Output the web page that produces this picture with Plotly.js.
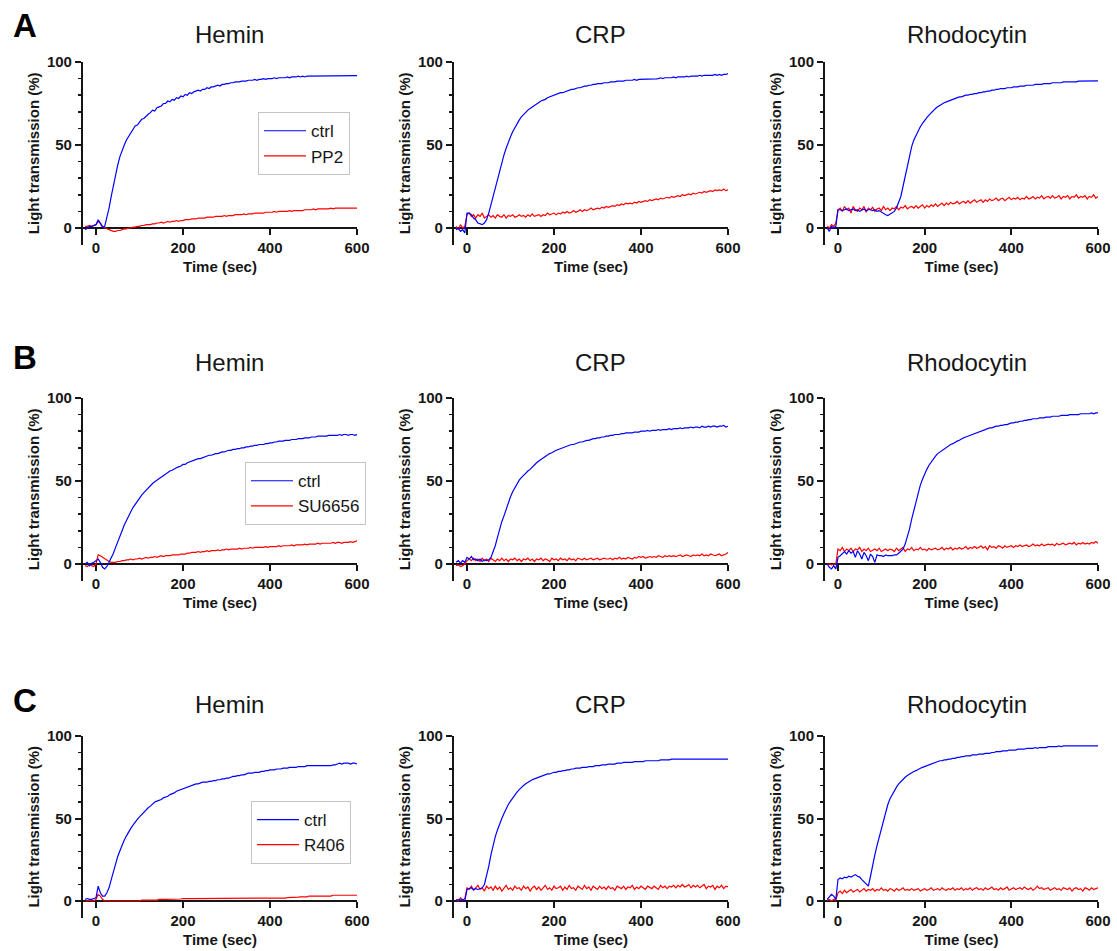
<!DOCTYPE html>
<html>
<head>
<meta charset="utf-8">
<script src="https://cdn.plot.ly/plotly-3.0.1.min.js"></script>
<style>html,body{margin:0;padding:0;background:#fff;}</style>
</head>
<body>
<div id="chart" style="width:1117px;height:951px;"></div>
<script>
// ---------------- DATA ----------------
const panelLetters = ['A', 'B', 'C'];
const agonists = ['Hemin', 'CRP', 'Rhodocytin'];
const inhibitors = ['PP2', 'SU6656', 'R406'];
const xTicks = [0, 200, 400, 600];
const yTicks = [0, 50, 100];

// time (sec)
const time = [-25,-20,-15,-10,-5,0,5,10,15,20,25,30,35,40,45,50,55,60,65,70,75,80,85,90,95,100,105,110,115,120,125,130,135,140,145,150,155,160,165,170,175,180,185,190,195,200,205,210,215,220,225,230,235,240,245,250,255,260,265,270,275,280,285,290,295,300,305,310,315,320,325,330,335,340,345,350,355,360,365,370,375,380,385,390,395,400,405,410,415,420,425,430,435,440,445,450,455,460,465,470,475,480,485,490,495,500,505,510,515,520,525,530,535,540,545,550,555,560,565,570,575,580,585,590,595,600];

// Row A (PP2)
const heminA_ctrl = [-1,0,1,1,1.5,2,5,3,0.5,1, 6,12,19,26,33,38,43,47,50,53, 55,57.5,59,61.5,62,64,65.5,66,67.5,68.5, 69.5,71,70.5,72.5,73,73.5,75,75,76.5,76, 77.5,77,78.5,78,79.5,79,80.5,80,81.5,81, 82,82.5,83,82.5,83.5,83.5,84.5,84,85,85, 85.5,86,85.5,86.5,86.5,87,87,87.5,87.5,88, 88,88,88.5,88.5,88.5,89,89,89,89.5,89, 89.5,89.5,90,89.5,90,90,90,90.5,90,90.5, 90.5,90.5,90.5,91,90.5,91,91,91,91.5,91, 91.5,91,91.5,91.5,91.5,91.5,91.5,91.5,91.5,91.5, 91.5,91.6,91.6,91.7,91.7,91.7,91.8,91.8,91.8,91.8, 91.8,91.8,91.8,91.8,91.8,91.8];
const heminA_PP2 = [1,1,1.5,1,1.5,2,4,3,1,0, -0.5,-1,-1.5,-2,-2,-1.5,-1.5,-1,-0.5,-0.5, 0,0,0.5,0.5,1,1,1.5,1.5,2,2, 2,2.5,2.5,3,3,3.5,3,3.5,4,3.5, 4,4,4.5,4,4.5,4.5,5,5,5,5.5, 5.5,5.5,6,6,6,6,6.5,6.5,6.5,6.5, 7,7,7,7,7.5,7,7.5,7.5,7.5,8, 8,8,8,8.5,8,8.5,8.5,8.5,9,9, 9,9,9,9.5,9.5,9.5,9.5,10,9.5,10, 10,10,10,10,10.5,10,10.5,10.5,10.5,10.5, 10.5,11,11,11,11,11.5,11,11.5,11.5,11.5, 11.5,11.5,11.5,12,11.5,12,12,12,12,12, 12,12,12,12,12,12];
const crpA_ctrl = [-1,0,-2,-1,-3,9,9,8,6,5, 3,2.5,2,3,5,9,14,20,25,30, 35,40,44,48,52,55,58,60.5,63,65, 67,68.5,70,71,72,73,74,75,75.5,76.5, 77,77.5,78.5,79,79.5,80,80.5,81,81.5,81.5, 82,82.5,83,83.5,83.5,84,84.5,84.5,85,85.5, 85.5,86,86,86.5,86.5,87,87,87,87.5,87.5, 87.5,88,88,88,88.5,88.5,88.5,88.5,89,89, 89,89,89.5,89,89.5,89.5,89.5,89.5,89.5,89.5, 89.8,89.8,89.8,90,90.5,90,90.5,90.5,90.5,90.5, 91,90.5,91,91,91,91,91.5,91,91.5,91.5, 91.5,91.5,92,91.5,92,92,92,92,92,92.5, 92,92.5,92,92.5,92.5,93];
const crpA_PP2 = [1,-1,2,0,1,8,9,7,8,6, 8,7,9,6,7,8,6.5,7.5,6,8, 7,6.5,8,6,7.5,7,8,6.5,7,8, 7,7.5,6.5,8,7,8.5,7,7.5,8,7, 8,7.5,9,8,8.5,9,8,9,8.5,9.5, 9,10,9,9.5,10.5,9.5,10,11,10,11, 10.5,11,12,11,11.5,12,11.5,12.5,12,13, 12.5,13,13.5,13,14,13.5,14.5,14,15,14.5, 15,14.5,15.5,15,16,15.5,16,16.5,16,17, 16.5,17,17.5,17,18,17.5,18,18.5,18,19, 18.5,19,19.5,19,20,19.5,20,20.5,20,21, 20.5,21,21.5,21,22,21.5,22,22.5,22,23, 22.5,23,22.5,23.5,22.5,23];
const rhodoA_ctrl = [0,-2,1,0,1,11,11,10.5,11,11.5, 10.5,11,11.5,10.5,11,10,11,11.5,10.5,11, 11,10.5,11,10,10.5,9.5,9,8,7.5,8.5, 9,10,12,15,19,25,31,38,44,49, 53,56,59,61,63,65,66.5,68,69.5,70.5, 72,73,74,75,75.5,76,76.5,77,77.5,78, 78.5,79,79,79.5,80,80,80.5,80.5,81,81, 81.5,81.5,82,82,82.5,82.5,83,83,83.5,83.5, 84,84,84,84.5,84.5,84.5,85,85,85,85.5, 85.5,85.5,86,86,86,86,86.5,86.5,86.5,86.5, 87,87,87,87,87.5,87.5,87.5,87.5,87.5,88, 88,88,88,88,88,88,88.5,88.5,88.5,88.5, 88.5,88.5,88.5,88.5,88.5,88.6];
const rhodoA_PP2 = [1,0,2,1,3,11,12,10,13,11, 12,9,13,11,10,12,11,13,9.5,12, 11,12.5,10,11.5,12,10.5,13,11,12,10.5, 12,11.5,13,11,12.5,12,13.5,11.5,12.5,13, 12,13.5,12,13,14,12,13.5,12.5,14,13, 14.5,13,14,15,13.5,15,14,15.5,14.5,15, 16,14.5,15.5,16,15,16.5,15,16,17,15.5, 16.5,17,15.5,17,16,17.5,16.5,17,18,16.5, 17.5,18,16.5,17.5,18.5,17,18,17.5,18.5,17, 18,17.5,19,17.5,18,19,17.5,18.5,18,19.5, 17.5,18.5,19,18,19.5,18,18.5,19.5,17.5,19, 18.5,19.5,17.5,19,18.5,20,18,19,18.5,19.5, 17.5,19,18.5,20,18,19];

// Row B (SU6656)
const heminB_ctrl = [0,1,-1,0.5,1,2,3,1,-2,-3, -1.5,1,3.5,6.5,10,13,16.5,20,23.5,26.5, 29,31.5,34,36,38,40,41.5,43,44.5,46, 47,48.5,49.5,50.5,51.5,52.5,53.5,54.5,55,56, 56.5,57.5,58,58.5,59,60,60,61,61.5,62, 62.5,63,63.5,63.5,64,64.5,65,65.5,65.5,66, 66.5,66.5,67,67.5,67.5,68,68.5,68.5,69,69, 69.5,69.5,70,70,70.5,70.5,71,71,71.5,71.5, 72,72,72,72.5,72.5,73,73,73.5,73.5,74, 74,74,74.5,74.5,74.5,75,75,75,75.5,75.5, 75.5,76,76,76,76.5,76.5,76.5,77,77,77, 77,77,77.5,77.5,77.5,77.5,77.5,78,77.5,78, 78,77.5,78,78,77.5,78];
const heminB_SU6656 = [-1,-1.5,-0.5,-1,-1.5,0,5.5,5,4,3, 2.5,1.5,1,1,1,1.5,1.5,2,2,2.5, 2.5,3,2.5,3,3,3.5,3,3.5,4,3.5, 4,4,4.5,4,4.5,5,4.5,5,5,5, 5.5,5.5,5.5,5.5,6,6,6,6.5,6.5,7, 7,7,7.5,7,7.5,7.5,8,7.5,8,8, 8,8.5,8,8.5,8.5,9,8.5,9,9,9, 9,9.5,9,9.5,9.5,9.5,10,9.5,10,10, 10,10,10,10.5,10,10.5,10.5,10.5,10.5,11, 10.5,11,11,11,11,11.5,11,11.5,11.5,11.5, 11.5,12,11.5,12,12,12,12,12.5,12,12.5, 12.5,12.5,12.5,12.5,13,12.5,13,13,12.5,13, 13,13,13.5,13,13.5,14];
const crpB_ctrl = [1,2,0.5,2,1,4,3,4.5,2.5,3, 2,3,1.5,2.5,2,2.5,4,7,11,16, 21,25.5,29,33,37,40.5,43.5,46,48.5,50.5, 52,53.5,55,56,57,58.5,59.5,61,62,63, 63.5,64.5,65.5,66.5,67,68,68.5,69,69.5,70, 70.5,71,71.5,72,72,72.5,73,73.5,73.5,74, 74.5,74.5,75,75.5,75.5,76,76,76.5,76.5,77, 77,77.5,77.5,78,78,78,78.5,78.5,79,79, 79,79,79.5,79.5,79.5,80,80,80,80.5,80, 80.5,80.5,80.5,81,80.5,81,81,81,81.5,81, 81.5,81.5,81.5,82,81.5,82,82,82,82.5,82, 82.5,82.5,82,83,82.5,82.5,83,82.5,83,83, 82.5,83,83,83.5,82.5,83];
const crpB_SU6656 = [-1,-0.5,-1.5,-1,0,2,3,2,3.5,2, 3,1.5,3.5,2,3,1.5,3.5,2.5,1.5,3, 2,3.5,2,3,1.5,3,2.5,3.5,2,3, 1.5,3,2.5,3.5,2,3,1.5,3,2.5,3.5, 2,3,2.5,1.5,3.5,2.5,3,2,3.5,2.5, 3,2,3.5,2.5,3,2,3.5,3,2.5,3.5, 2.5,3,3.5,2.5,3,3.5,2.5,3,3.5,3, 3,3.5,2.5,3.5,3,4,3,3.5,3,4, 3.5,3,4,3.5,4.5,4,4.5,3.5,4,4.5, 4,4.5,4,5,4.5,4,5,4.5,5,4.5, 5,4.5,5,5.5,4.5,5,5.5,5,4.5,5.5, 5,5.5,5,6,5,5.5,5,6,5.5,5, 5.5,6,5,5.5,6,7];
const rhodoB_ctrl = [0,-2,-3,-1,-3,4,5,6,7.5,6, 8,6.5,7.5,4,8,6,3,7,5,2, 6,4.5,1,5.5,5,5,4.5,5.5,5,5, 5,5.5,5.5,6.5,7.5,9,12,16,21,27, 32,38,43,47.5,51,54.5,57,59.5,61.5,63.5, 65,66.5,67.5,68.5,69.5,70.5,71,72,72.5,73.5, 74,74.5,75.5,76,76.5,77,77.5,78,78.5,79, 79.5,80,80.5,81,81.5,82,82,82.5,83,83, 83.5,83.5,84,84,84.5,85,85,85.5,85.5,86, 86,86.5,86.5,87,87,87.5,87.5,87.5,88,88, 88,88.5,88.5,88.5,89,89,89,89,89.5,89.5, 89.5,89.5,90,90,90,90,90,90.5,90.5,90.5, 90.5,90.5,91,90.5,91,91];
const rhodoB_SU6656 = [0,0,-0.5,0,0,9,8,10,7.5,9, 8,9.5,7.5,9,8.5,10,7.5,9,8,9.5, 7.5,8.5,9,8,9.5,7.5,8.5,9,8,9, 8.5,7.5,9.5,8,9,10,7.5,9,8.5,10, 8,9,8.5,10,8.5,9,8,9.5,8.5,9, 9.5,8.5,9,10,8.5,9.5,9,10,8.5,9.5, 9,10,9,9.5,10.5,9,10,9.5,10.5,9.5, 10,11,9.5,10.5,8.5,11,10,10.5,9.5,11, 10.5,9.5,11,10,10.5,11,10,11,10.5,11.5, 10.5,11,11.5,10.5,11,12,11,11.5,11,12, 11,11.5,12,11.5,12,11,12.5,11.5,12,12.5, 11.5,12,12.5,12,13,11.5,12.5,12,13,12, 12.5,12,13,12.5,13.5,12.5];

// Row C (R406)
const heminC_ctrl = [1,1.5,1,1,1.5,2,9,5,3,3, 5,8,13,18,23,27,30.5,34,37,39.5, 42,44,46,48,49.5,51,52.5,54,55,56.5, 57.5,59,60,60.5,61,61.5,62.5,63,63.5,64.5, 65,65.5,66.5,67,67.5,68,68.5,69,69.5,70, 70.5,71,71,71.5,72,72,72,72.5,72.5,73, 73,73.5,73.5,74,74,74.5,74.5,75,75.5,75.5, 76,76,76.5,76.5,77,77.5,77.5,77.5,78,78, 78,78.5,78.5,79,79,79.5,79.5,79.5,80,80, 80,80.5,80.5,80.5,81,81,81,81,81.5,81.5, 81.5,81.5,82,82,82,82,82,82,82,82, 82,82,82,82,82.5,82.5,83,83.5,83,83.5, 83.5,83.5,83,83.5,83.5,83];
const heminC_R406 = [0,0,0.5,0,0,1,4,3,1,0, 0,0,0,0,0,0,0,0,0,0, 0,0,0.3,0,0.3,0,0.5,0.3,0.5,0.5, 0.5,0.5,0.8,0.5,1,0.8,1,1,1,1, 1,1.2,1,1.3,1.2,1.5,1.3,1.5,1.5,1.5, 1.5,1.5,1.8,1.5,1.5,1.8,1.5,1.5,1.5,1.5, 1.5,1.5,1.5,1.5,1.5,1.5,1.5,1.5,1.5,1.5, 1.5,1.8,1.5,1.5,1.5,1.5,1.5,1.5,1.5,1.5, 1.5,1.5,1.5,1.5,1.5,1.5,1.5,1.8,1.5,1.5, 1.5,1.5,1.8,2,2,2,2.3,2,2.3,2.5, 2.5,2.8,2.5,3,2.8,3,3,3,3,3, 3,3,3,3,3.5,3.5,3.5,3.5,3.5,3.5, 3.5,3.8,3.5,3.8,3.5,3.5];
const crpC_ctrl = [0,1,0.5,1,0,7,7.5,8,7,7.5, 7,7.5,8,10,15,21,28,34,39,43, 47,50,53,56,58.5,60.5,62.5,64.5,66,67.5, 69,70,71,72,72.5,73.5,74,74.5,75,75.5, 76,76.5,77,77,77.5,78,78,78.5,78.5,79, 79,79.5,79.5,80,80,80.5,80.5,80.5,81,81, 81,81.5,81.5,81.5,82,82,82,82.5,82.5,82.5, 83,83,83,83,83.5,83.5,83.5,84,84,84, 84,84,84.5,84.5,84.5,84.5,84.5,85,85,85, 85,85,85,85,85.5,85.5,85.5,85.5,85.5,86, 86,86,86,86,86,86,86,86,86,86, 86,86,86,86,86,86,86,86,86,86, 86,86,86,86,86,86];
const crpC_R406 = [1,0,2,0.5,1.5,8,7,9,6.5,8, 9.5,7,8,6,9,7.5,8.5,6.5,9,7, 8.5,6,8,9.5,7,8,6.5,9,7.5,8, 6.5,9,7.5,8.5,6,8,9,7,8.5,6.5, 8,9.5,7,8,6.5,9,7.5,8,9,6.5, 8.5,7,9.5,7.5,8,6.5,9,8,7,9.5, 7.5,8.5,6.5,9,8,7,9,7.5,8.5,7, 9,7.5,8,6.5,9,8,7.5,9,7,8.5, 8,9.5,7,8.5,7.5,9,8,7,9,8, 7.5,9,8,7,9.5,8,9,7.5,9,8.5, 9.5,8,9.5,8.5,10,8.5,9,10,8,9.5, 8.5,9.5,8,9,10,7.5,9,8.5,9.5,7, 9,8,9.5,7.5,9,8.5];
const rhodoC_ctrl = [1,2.5,4,3,1,13,14,13.5,14.5,14, 15,14.5,15.5,16,15,14.5,13,11.5,10,9, 15,22,28,33.5,38.5,44,49,54,58.5,62, 64.5,67,69,71,72.5,74,75,76,77,78, 78.5,79,80,80.5,81,81.5,82,82.5,83,83.5, 84,84.5,85,85,85.5,85.5,86,86,86.5,86.5, 87,87,87.5,87.5,88,88,88,88.5,88.5,88.5, 89,89,89,89.5,89.5,89.5,90,90,90.5,90.5, 90.5,91,91,91,91.5,91.5,91.5,91.5,92,92, 92,92,92.5,92.5,92.5,92.5,93,92.5,93,93, 93,93,93.5,93.5,93.5,93.5,93.5,94,93.5,94, 94,94,94,94,94,94,94,94,94,94, 94,94,94,94,94,94];
const rhodoC_R406 = [0.5,1,0,1,0.5,5,6,4.5,6.5,5, 6,7,5.5,6.5,7,5.5,6.5,7.5,6,7, 6.5,7.5,6,7,6.5,8,6.5,7,6,7.5, 7,6,7.5,6.5,7,8,6.5,7,6.5,7.5, 6.5,7,7.5,6,7,7.5,6.5,7,8,6.5, 7,7.5,6.5,8,7,6.5,7.5,7,8,6.5, 7.5,7,8,6.5,7.5,7,8,6.5,7.5,8, 7,7.5,6.5,8,7,7.5,8.5,7,7.5,6.5, 8,7,7.5,8.5,6.5,7.5,8,7,7.5,8, 7,8.5,7.5,7,8,6.5,7.5,9,7.5,8, 7,7.5,8,6.5,7.5,8,7,7.5,6.5,8, 7.5,7,8,6,7.5,8,7,7.5,6,8, 7.5,6.5,8,7,7.5,8];

const ctrlSeries = [
  [heminA_ctrl, crpA_ctrl, rhodoA_ctrl],
  [heminB_ctrl, crpB_ctrl, rhodoB_ctrl],
  [heminC_ctrl, crpC_ctrl, rhodoC_ctrl]
];
const inhSeries = [
  [heminA_PP2, crpA_PP2, rhodoA_PP2],
  [heminB_SU6656, crpB_SU6656, rhodoB_SU6656],
  [heminC_R406, crpC_R406, rhodoC_R406]
];

// ---------------- LAYOUT GEOMETRY ----------------
const W = 1117, H = 951;
const FONT = 'Liberation Sans, Arial, Helvetica, sans-serif';
const INK = '#161616';
const colPx = [[96, 357], [467, 728], [838, 1098]];   // pixel x of t=0 and t=600
const rowPx = [[62, 228], [398, 564], [736, 901]];    // pixel y of 100% and 0%
const legendPos = [[0.231, 0.882], [0.2193, 0.514], [0.2247, 0.1577]];
const titleY = [0.9632, 0.6183, 0.2587];
const letterY = [0.9737, 0.6246, 0.2639];
const titleX = [0.2059, 0.5372, 0.8657];

const traces = [];
const layout = {
  width: W, height: H,
  margin: {l: 0, r: 0, t: 0, b: 0},
  paper_bgcolor: '#fff', plot_bgcolor: 'rgba(0,0,0,0)',
  font: {family: FONT, color: INK},
  showlegend: true,
  annotations: []
};

for (let r = 0; r < 3; r++) {
  const legName = r === 0 ? 'legend' : 'legend' + (r + 1);
  layout[legName] = {
    x: legendPos[r][0], y: legendPos[r][1], xanchor: 'left', yanchor: 'top',
    bgcolor: 'rgba(255,255,255,0.9)', bordercolor: '#c4c4c4', borderwidth: 1,
    font: {family: FONT, size: 17, color: INK},
    traceorder: 'normal', tracegroupgap: 0, itemwidth: 42
  };
  for (let c = 0; c < 3; c++) {
    const k = r * 3 + c + 1;
    const xs = k === 1 ? '' : String(k);
    const [x0, x600] = colPx[c];
    const [y100, y0] = rowPx[r];
    const pxPerSec = (x600 - x0) / 600;
    const pxPerPct = (y0 - y100) / 100;
    const xl = (x0 - 30 * pxPerSec) / W, xr = x600 / W;
    const yt = 1 - y100 / H, yb = 1 - (y0 + 10 * pxPerPct) / H;
    const zeroPos = 1 - y0 / H;

    layout['xaxis' + xs] = {
      domain: [xl, xr], range: [-30, 600], anchor: 'free', position: zeroPos,
      showline: true, linecolor: INK, linewidth: 2,
      ticks: 'outside', ticklen: 6, tickwidth: 2, tickcolor: INK,
      tickmode: 'array', tickvals: xTicks,
      tickfont: {family: FONT, size: 15, color: INK, weight: 'bold'},
      showgrid: false, zeroline: false, layer: 'below traces', fixedrange: true,
      title: {text: 'Time (sec)', font: {family: FONT, size: 15, color: INK, weight: 'bold'}, standoff: 5}
    };
    layout['yaxis' + xs] = {
      domain: [yb, yt], range: [-10, 100], anchor: 'x' + xs,
      showline: true, linecolor: INK, linewidth: 2,
      ticks: 'outside', ticklen: 6, tickwidth: 2, tickcolor: INK,
      tickmode: 'array', tickvals: yTicks,
      minor: {tickmode: 'array', tickvals: [10, 20, 30, 40, 60, 70, 80, 90], ticks: 'outside', ticklen: 3, tickwidth: 1.5, tickcolor: INK, showgrid: false},
      tickfont: {family: FONT, size: 15, color: INK, weight: 'bold'},
      showgrid: false, zeroline: false, layer: 'below traces', fixedrange: true,
      title: {text: 'Light transmission (%)', font: {family: FONT, size: 15, color: INK, weight: 'bold'}, standoff: 4}
    };

    traces.push({
      type: 'scatter', mode: 'lines', x: time, y: inhSeries[r][c],
      xaxis: 'x' + xs, yaxis: 'y' + xs,
      name: inhibitors[r], legend: legName, showlegend: c === 0, legendrank: 2,
      line: {color: '#ff0000', width: 1.2}, hoverinfo: 'skip'
    });
    traces.push({
      type: 'scatter', mode: 'lines', x: time, y: ctrlSeries[r][c],
      xaxis: 'x' + xs, yaxis: 'y' + xs,
      name: 'ctrl', legend: legName, showlegend: c === 0, legendrank: 1,
      line: {color: '#0000ff', width: 1.2}, hoverinfo: 'skip'
    });

    layout.annotations.push({
      xref: 'paper', yref: 'paper', x: titleX[c], y: titleY[r],
      xanchor: 'center', yanchor: 'middle', showarrow: false,
      text: agonists[c], font: {family: FONT, size: 24, color: INK}
    });
  }
  layout.annotations.push({
    xref: 'paper', yref: 'paper', x: 25 / W, y: letterY[r],
    xanchor: 'center', yanchor: 'middle', showarrow: false,
    text: '<b>' + panelLetters[r] + '</b>', font: {family: FONT, size: 33, color: '#000'}
  });
}

Plotly.newPlot('chart', traces, layout, {displayModeBar: false, staticPlot: true});
</script>
</body>
</html>
